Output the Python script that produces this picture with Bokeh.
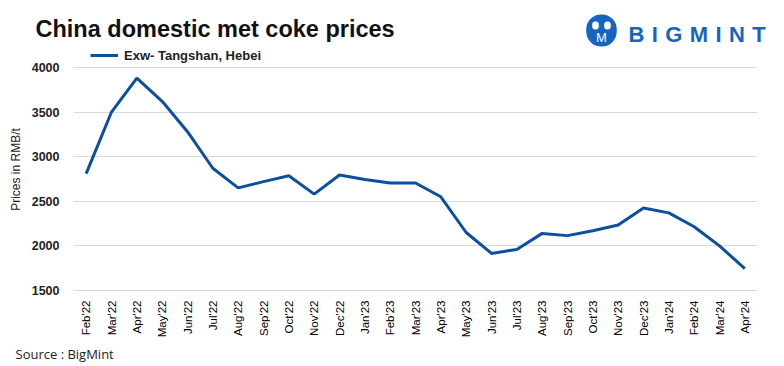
import numpy as np
from bokeh.plotting import figure
from bokeh.layouts import column
from bokeh.models import Label, Legend, LegendItem, Range1d, FactorRange
from bokeh.embed import file_html
from bokeh.resources import INLINE

months = ["Feb'22", "Mar'22", "Apr'22", "May'22", "Jun'22", "Jul'22", "Aug'22", "Sep'22",
          "Oct'22", "Nov'22", "Dec'22", "Jan'23", "Feb'23", "Mar'23", "Apr'23", "May'23",
          "Jun'23", "Jul'23", "Aug'23", "Sep'23", "Oct'23", "Nov'23", "Dec'23", "Jan'24",
          "Feb'24", "Mar'24", "Apr'24"]
prices = [2810, 3500, 3880, 3620, 3280, 2870, 2650, 2720, 2785, 2580, 2795, 2745, 2705,
          2705, 2550, 2150, 1915, 1960, 2140, 2115, 2170, 2235, 2425, 2370, 2215, 2000, 1745]
y_ticks = [1500, 2000, 2500, 3000, 3500, 4000]

BLUE = "#0B4FA0"
LOGO = "#1565C0"
W = 768
H_HEAD, H_MAIN, H_FOOT = 48, 292, 24


def blank(h):
    f = figure(width=W, height=h, x_range=Range1d(0, W), y_range=Range1d(0, h),
               x_axis_type=None, y_axis_type=None, output_backend="svg",
               toolbar_location=None, min_border=0, frame_align=False)
    f.outline_line_color = None
    f.xgrid.visible = False
    f.ygrid.visible = False
    return f


# ---------- header: title + logo ----------
head = blank(H_HEAD)


def hlab(px, py, text, **kw):
    head.add_layout(Label(x=px, y=H_HEAD - py, x_units="screen", y_units="screen",
                          text=text, **kw))


hlab(35, 28.5, "China domestic met coke prices", text_font="Liberation Sans",
     text_font_style="bold", text_font_size="23.5px", text_color="#111111",
     text_baseline="alphabetic", text_align="left")
hlab(601, 30, "\u00a0", text_font_size="2px", text_align="center", text_baseline="middle",
     padding=15, border_radius=15, background_fill_color=LOGO)
for hx in (595, 607):
    hlab(hx, 25, "\u00a0", text_font_size="2px", text_align="center",
         text_baseline="middle", padding=3, border_radius=3, background_fill_color="white")
hlab(601, 37, "M", text_font="Liberation Sans", text_font_size="13px", text_color="white",
     text_align="center", text_baseline="middle")
widths = [15.9, 6.1, 17.1, 18.3, 6.1, 15.9, 13.4]
lx = 628
for ch, w in zip("BIGMINT", widths):
    hlab(lx, 34, ch, text_font="Liberation Sans", text_font_style="bold",
         text_font_size="22px", text_color=LOGO, text_baseline="middle", text_align="left")
    lx += w + 7.4

# ---------- main chart ----------
p = figure(width=W, height=H_MAIN, x_range=FactorRange(*months, range_padding=0),
           y_range=Range1d(1500, 4212), output_backend="svg", toolbar_location=None,
           min_border_left=73, min_border_right=11, min_border_top=0, min_border_bottom=49,
           frame_align=False)
p.outline_line_color = None

r = p.line(months, prices, line_color=BLUE, line_width=3)

p.xgrid.grid_line_color = None
p.ygrid.grid_line_color = "#d9d9d9"
p.ygrid.grid_line_width = 1
p.yaxis.ticker = y_ticks
p.yaxis.axis_line_color = None
p.yaxis.major_tick_line_color = None
p.yaxis.minor_tick_line_color = None
p.yaxis.major_label_text_font = "Liberation Sans"
p.yaxis.major_label_text_font_style = "bold"
p.yaxis.major_label_text_font_size = "12.5px"
p.yaxis.major_label_text_color = "#222222"
p.yaxis.major_label_standoff = 8
p.yaxis.axis_label = "Prices in RMB/t"
p.yaxis.axis_label_text_font = "Liberation Sans"
p.yaxis.axis_label_text_font_style = "normal"
p.yaxis.axis_label_text_font_size = "12px"
p.yaxis.axis_label_text_color = "#222222"
p.yaxis.axis_label_standoff = 6

p.xaxis.axis_line_color = "#d9d9d9"
p.xaxis.major_tick_line_color = None
p.xaxis.minor_tick_line_color = None
p.xaxis.major_label_orientation = np.pi / 2
p.xaxis.major_label_text_font = "Liberation Sans"
p.xaxis.major_label_text_font_size = "11.5px"
p.xaxis.major_label_text_color = "#000000"
p.xaxis.major_label_standoff = 4

legend = Legend(items=[LegendItem(label="Exw- Tangshan, Hebei", renderers=[r])],
                location=(17, 227), orientation="horizontal", padding=0, margin=0,
                glyph_width=28, glyph_height=16, label_standoff=6,
                label_text_font="Liberation Sans", label_text_font_style="bold",
                label_text_font_size="13px", label_text_color="#222222",
                background_fill_alpha=0, border_line_color=None)
p.add_layout(legend, "center")

# ---------- footer: source ----------
foot = blank(H_FOOT)
foot.add_layout(Label(x=15, y=H_FOOT - 13, x_units="screen", y_units="screen",
                      text="Source : BigMint", text_font="Open Sans", text_font_size="13px",
                      text_color="#222222", text_baseline="middle", text_align="left"))

layout = column(head, p, foot, spacing=0)
open("out.html", "w").write(file_html(layout, INLINE))
